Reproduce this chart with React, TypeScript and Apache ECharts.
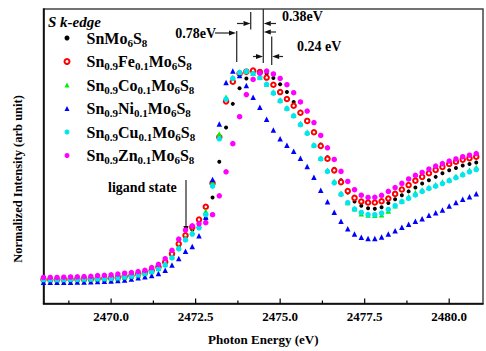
import React, { useEffect, useRef } from "react";
import * as echarts from "echarts";

// Photon energy (eV), sampling grid of the measured spectra
const energies = [
  2468.0, 2468.2, 2468.4, 2468.6, 2468.8, 2469.0, 2469.2, 2469.4, 2469.6, 2469.8,
  2470.0, 2470.2, 2470.4, 2470.6, 2470.8, 2471.0, 2471.2, 2471.4, 2471.6, 2471.8,
  2472.0, 2472.2, 2472.4, 2472.6, 2472.8, 2473.0, 2473.2, 2473.4, 2473.6, 2473.8,
  2474.0, 2474.2, 2474.4, 2474.6, 2474.8, 2475.0, 2475.2, 2475.4, 2475.6, 2475.8,
  2476.0, 2476.2, 2476.4, 2476.6, 2476.8, 2477.0, 2477.2, 2477.4, 2477.6, 2477.8,
  2478.0, 2478.2, 2478.4, 2478.6, 2478.8, 2479.0, 2479.2, 2479.4, 2479.6, 2479.8,
  2480.0, 2480.2, 2480.4, 2480.6, 2480.8,
];

// Normalized intensities (arb. unit)
const snMo6S8 = [
  0.014, 0.014, 0.014, 0.014, 0.015, 0.015, 0.016, 0.016, 0.017, 0.019,
  0.020, 0.023, 0.027, 0.032, 0.037, 0.044, 0.053, 0.070, 0.093, 0.128,
  0.172, 0.216, 0.250, 0.274, 0.303, 0.404, 0.574, 0.737, 0.849, 0.923,
  0.970, 0.993, 1.005, 0.993, 0.972, 0.942, 0.905, 0.858, 0.812, 0.770,
  0.716, 0.656, 0.595, 0.540, 0.486, 0.427, 0.385, 0.365, 0.353, 0.350,
  0.358, 0.378, 0.396, 0.415, 0.433, 0.451, 0.470, 0.486, 0.502, 0.519,
  0.533, 0.544, 0.556, 0.563, 0.570,
];
const feDoped = [
  0.014, 0.014, 0.014, 0.015, 0.015, 0.016, 0.017, 0.017, 0.018, 0.020,
  0.021, 0.024, 0.028, 0.033, 0.040, 0.047, 0.057, 0.074, 0.097, 0.136,
  0.184, 0.224, 0.263, 0.299, 0.360, 0.472, 0.691, 0.861, 0.954, 0.993,
  1.002, 1.007, 1.000, 0.974, 0.940, 0.905, 0.872, 0.840, 0.807, 0.768,
  0.714, 0.649, 0.588, 0.533, 0.477, 0.435, 0.402, 0.385, 0.380, 0.380,
  0.386, 0.399, 0.421, 0.442, 0.463, 0.484, 0.502, 0.519, 0.535, 0.549,
  0.563, 0.574, 0.584, 0.591, 0.598,
];
const coDoped = [
  0.013, 0.013, 0.013, 0.013, 0.014, 0.014, 0.015, 0.015, 0.016, 0.017,
  0.019, 0.021, 0.025, 0.030, 0.036, 0.043, 0.052, 0.067, 0.088, 0.122,
  0.168, 0.210, 0.240, 0.272, 0.339, 0.477, 0.706, 0.881, 0.974, 1.000,
  1.005, 0.995, 0.977, 0.944, 0.905, 0.867, 0.830, 0.795, 0.756, 0.714,
  0.655, 0.590, 0.533, 0.481, 0.424, 0.380, 0.350, 0.327, 0.321, 0.319,
  0.322, 0.340, 0.365, 0.387, 0.407, 0.426, 0.440, 0.453, 0.465, 0.477,
  0.488, 0.505, 0.517, 0.533, 0.547,
];
const niDoped = [
  0.001, 0.001, 0.001, 0.001, 0.001, 0.002, 0.002, 0.003, 0.005, 0.006,
  0.007, 0.009, 0.012, 0.016, 0.022, 0.027, 0.033, 0.043, 0.058, 0.083,
  0.114, 0.148, 0.171, 0.222, 0.311, 0.489, 0.753, 0.951, 1.005, 0.984,
  0.936, 0.881, 0.833, 0.776, 0.725, 0.683, 0.652, 0.624, 0.590, 0.551,
  0.500, 0.438, 0.384, 0.334, 0.291, 0.255, 0.230, 0.215, 0.209, 0.209,
  0.216, 0.230, 0.246, 0.263, 0.277, 0.291, 0.303, 0.319, 0.331, 0.345,
  0.364, 0.380, 0.396, 0.408, 0.422,
];
const cuDoped = [
  0.014, 0.014, 0.014, 0.014, 0.015, 0.015, 0.016, 0.016, 0.017, 0.018,
  0.020, 0.022, 0.026, 0.030, 0.036, 0.043, 0.051, 0.065, 0.083, 0.117,
  0.160, 0.202, 0.230, 0.260, 0.322, 0.458, 0.683, 0.872, 0.970, 0.998,
  1.004, 0.993, 0.974, 0.942, 0.900, 0.863, 0.826, 0.792, 0.750, 0.709,
  0.651, 0.588, 0.528, 0.474, 0.419, 0.379, 0.349, 0.333, 0.323, 0.322,
  0.330, 0.347, 0.365, 0.384, 0.400, 0.416, 0.433, 0.447, 0.458, 0.470,
  0.484, 0.498, 0.512, 0.526, 0.537,
];
const znDoped = [
  0.024, 0.024, 0.024, 0.025, 0.026, 0.027, 0.028, 0.029, 0.033, 0.034,
  0.036, 0.040, 0.044, 0.047, 0.052, 0.058, 0.071, 0.086, 0.113, 0.153,
  0.206, 0.249, 0.269, 0.279, 0.284, 0.322, 0.412, 0.526, 0.660, 0.788,
  0.893, 0.965, 0.995, 1.005, 0.991, 0.970, 0.940, 0.902, 0.858, 0.815,
  0.760, 0.699, 0.640, 0.585, 0.528, 0.480, 0.441, 0.415, 0.404, 0.405,
  0.414, 0.433, 0.451, 0.471, 0.492, 0.509, 0.523, 0.539, 0.553, 0.565,
  0.577, 0.587, 0.598, 0.605, 0.613,
];

const seriesNames = [
  "SnMo6S8",
  "Sn0.9Fe0.1Mo6S8",
  "Sn0.9Co0.1Mo6S8",
  "Sn0.9Ni0.1Mo6S8",
  "Sn0.9Cu0.1Mo6S8",
  "Sn0.9Zn0.1Mo6S8",
];
const seriesValues = [snMo6S8, feDoped, coDoped, niDoped, cuDoped, znDoped];

// x-axis ticks (eV)
const majorTicks = [2470.0, 2472.5, 2475.0, 2477.5, 2480.0];
const minorTicks = [2468.75, 2471.25, 2473.75, 2476.25, 2478.75];

const SERIF = "'Liberation Serif', 'Times New Roman', serif";

const styles = [
  { symbol: "circle", size: 4, color: "#000000" },
  { symbol: "emptyCircle", size: 4.5, color: "#ff0000" },
  { symbol: "triangle", size: 5.5, color: "#00ee00" },
  { symbol: "triangle", size: 5.5, color: "#0000ff" },
  { symbol: "circle", size: 5.5, color: "#00e5ee" },
  { symbol: "circle", size: 5.5, color: "#ff00ff" },
];

function arrow(x1: number, y1: number, x2: number, y2: number) {
  const dx = x2 - x1;
  const dy = y2 - y1;
  const len = Math.sqrt(dx * dx + dy * dy);
  const ux = dx / len;
  const uy = dy / len;
  const hl = 7;
  const hw = 2.6;
  const bx = x2 - ux * hl;
  const by = y2 - uy * hl;
  return [
    {
      type: "line",
      shape: { x1, y1, x2: bx, y2: by },
      style: { stroke: "#222", lineWidth: 1.2 },
    },
    {
      type: "polygon",
      shape: {
        points: [
          [x2, y2],
          [bx - uy * hw, by + ux * hw],
          [bx + uy * hw, by - ux * hw],
        ],
      },
      style: { fill: "#111" },
    },
  ];
}

function vline(x: number, y1: number, y2: number) {
  return {
    type: "line",
    shape: { x1: x, y1, x2: x, y2 },
    style: { stroke: "#333", lineWidth: 1.3 },
  };
}

function label(text: string, x: number, y: number, align: string, size = 14, italic = false) {
  return {
    type: "text",
    x,
    y,
    style: {
      text,
      fill: "#000",
      font: `${italic ? "italic " : ""}bold ${size}px ${SERIF}`,
      textAlign: align,
      textVerticalAlign: "middle",
    },
  };
}

export default function App() {
  const ref = useRef<HTMLDivElement>(null);

  useEffect(() => {
    if (!ref.current) return;
    const chart = echarts.init(ref.current, undefined, { renderer: "svg" });

    const scatterSeries = seriesNames.map((name, k) => ({
      name,
      type: "scatter",
      symbol: styles[k].symbol,
      symbolSize: styles[k].size,
      symbolKeepAspect: true,
      itemStyle: {
        color: styles[k].color,
        borderColor: styles[k].color,
        borderWidth: styles[k].symbol === "emptyCircle" ? 1 : 0,
        opacity: 1,
      },
      data: energies.map((e, i) => [e, seriesValues[k][i]]),
      z: 3,
    }));

    const tickData = [
      ...majorTicks.map((v) => [v, 1]),
      ...minorTicks.map((v) => [v, 0]),
    ];

    const graphic = [
      label("S k-edge", 48, 21.5, "left", 15, true),
      label("0.78eV", 216, 33.5, "right"),
      ...arrow(215, 33, 236, 33),
      vline(236.7, 31, 62),
      ...arrow(237, 23.5, 250.5, 23.5),
      vline(250.7, 12, 29.5),
      vline(263.3, 9, 63),
      ...arrow(276, 23.5, 263.8, 23.5),
      ...arrow(276, 32, 263.8, 32),
      label("0.38eV", 282, 16, "left"),
      vline(271.7, 36.5, 65),
      ...arrow(253, 56.5, 263, 56.5),
      ...arrow(283, 56.5, 272.2, 56.5),
      label("0.24 eV", 297, 46.5, "left"),
      label("ligand state", 108, 187, "left"),
      ...arrow(186, 180, 186, 233),
      {
        type: "text",
        x: 18,
        y: 179,
        rotation: Math.PI / 2,
        style: {
          text: "Normalized Intensity (arb unit)",
          fill: "#000",
          font: `bold 12.5px ${SERIF}`,
          textAlign: "center",
          textVerticalAlign: "middle",
        },
      },
    ];

    chart.setOption({
      animation: false,
      backgroundColor: "#ffffff",
      grid: {
        left: 43.5,
        top: 9,
        width: 446,
        height: 301,
        show: true,
        borderColor: "#444",
        borderWidth: 1.5,
        backgroundColor: "transparent",
      },
      legend: {
        data: seriesNames,
        orient: "vertical",
        left: 63.5,
        top: 30,
        padding: 0,
        itemGap: 5.5,
        itemWidth: 5,
        itemHeight: 5,
        selectedMode: false,
        formatter: (name: string) =>
          name
            .replace(/([A-Za-z]+)/g, "{m|$1}")
            .replace(/([0-9.]+)/g, "{s|$1}"),
        textStyle: {
          color: "#000",
          padding: [0, 0, 0, 12],
          rich: {
            m: {
              fontSize: 16,
              fontWeight: "bold",
              fontFamily: SERIF,
              lineHeight: 20,
              color: "#000",
            },
            s: {
              fontSize: 11,
              fontWeight: "bold",
              fontFamily: SERIF,
              lineHeight: 8,
              verticalAlign: "bottom",
              color: "#000",
            },
          },
        },
      },
      xAxis: {
        type: "value",
        min: 2468,
        max: 2481,
        interval: 0.5,
        name: "Photon Energy (eV)",
        nameLocation: "middle",
        nameGap: 29.5,
        nameTextStyle: {
          color: "#000",
          fontFamily: SERIF,
          fontWeight: "bold",
          fontSize: 13,
        },
        axisLine: { show: true, onZero: false, lineStyle: { color: "#000", width: 1.5 } },
        axisTick: { show: false },
        splitLine: { show: false },
        axisLabel: {
          color: "#000",
          fontFamily: SERIF,
          fontWeight: "bold",
          fontSize: 13,
          margin: 6,
          formatter: (v: number) =>
            Math.abs(v / 2.5 - Math.round(v / 2.5)) < 1e-6 ? v.toFixed(1) : "",
        },
      },
      yAxis: {
        type: "value",
        min: -0.1,
        max: 1.3,
        axisLine: { show: true, onZero: false, lineStyle: { color: "#000", width: 1.5 } },
        axisTick: { show: false },
        axisLabel: { show: false },
        splitLine: { show: false },
      },
      series: [
        ...scatterSeries,
        {
          name: "ticks",
          type: "custom",
          silent: true,
          clip: false,
          data: tickData,
          z: 5,
          renderItem: (_params: any, api: any) => {
            const v = api.value(0);
            const major = api.value(1);
            const p = api.coord([v, -0.1]);
            return {
              type: "line",
              shape: { x1: p[0], y1: p[1], x2: p[0], y2: p[1] - (major ? 5 : 3) },
              style: { stroke: "#000", lineWidth: 1.2 },
            };
          },
        },
      ],
      graphic,
    });

    return () => chart.dispose();
  }, []);

  return (
    <div
      ref={ref}
      style={{ position: "fixed", left: 0, top: 0, width: 486, height: 351 }}
    />
  );
}
